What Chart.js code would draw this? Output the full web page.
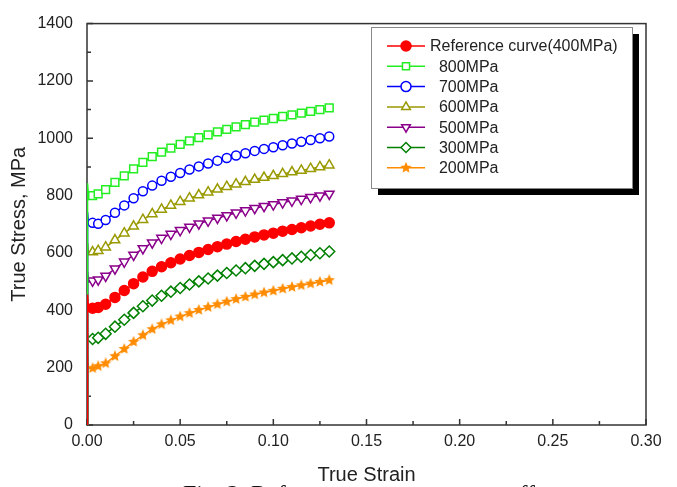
<!DOCTYPE html>
<html>
<head>
<meta charset="utf-8">
<title>True stress - true strain</title>
<script src="https://cdn.jsdelivr.net/npm/chart.js@4.4.1/dist/chart.umd.min.js"></script>
<style>
  html, body { margin: 0; padding: 0; background: #fff; }
  #chart { display: block; }
</style>
</head>
<body>
<canvas id="chart" width="677" height="487"></canvas>
<script>
// strain values; the first three points are the elastic spike (no markers)
const strain = [0, 0.0003, 0.0008, 0.003, 0.006, 0.010, 0.015, 0.020, 0.025, 0.030,
  0.035, 0.040, 0.045, 0.050, 0.055, 0.060, 0.065, 0.070, 0.075, 0.080,
  0.085, 0.090, 0.095, 0.100, 0.105, 0.110, 0.115, 0.120, 0.125, 0.130];

// true stress (MPa)
const stressRef = [0, 455, 408, 407, 410, 421, 445, 469, 493, 516, 536, 552, 566, 579, 591, 602, 612, 622, 631, 640, 648, 656, 663, 669, 676, 682, 688, 694, 700, 705];
const stress800 = [0, 843, 797, 800, 806, 821, 846, 869, 893, 916, 936, 952, 966, 979, 991, 1002, 1012, 1022, 1031, 1040, 1048, 1056, 1063, 1069, 1076, 1082, 1088, 1094, 1100, 1106];
const stress700 = [0, 742, 703, 705, 702, 715, 740, 766, 791, 815, 835, 852, 866, 879, 891, 902, 912, 922, 931, 940, 948, 956, 963, 969, 976, 982, 988, 994, 1000, 1006];
const stress600 = [0, 636, 600, 603, 608, 620, 645, 669, 693, 716, 736, 752, 766, 779, 791, 802, 812, 822, 831, 840, 848, 856, 863, 869, 876, 882, 888, 894, 900, 906];
const stress500 = [0, 533, 500, 503, 507, 520, 545, 569, 593, 616, 636, 652, 666, 679, 691, 702, 712, 722, 731, 740, 748, 756, 763, 769, 776, 782, 788, 794, 800, 806];
const stress300 = [0, 318, 298, 300, 304, 318, 343, 367, 391, 414, 434, 451, 465, 478, 490, 501, 511, 521, 530, 539, 547, 555, 562, 568, 575, 581, 587, 593, 599, 605];
const stress200 = [0, 238, 200, 198, 205, 215, 240, 265, 290, 313, 334, 351, 365, 378, 390, 401, 411, 421, 430, 439, 447, 455, 462, 468, 475, 481, 487, 493, 499, 505];

const seriesLabels = ['Reference curve(400MPa)', '  800MPa', '  700MPa', '  600MPa', '  500MPa', '  300MPa', '  200MPa'];

// tick labels
const xTickValues = [0, 0.05, 0.10, 0.15, 0.20, 0.25, 0.30];
const yTickValues = [0, 200, 400, 600, 800, 1000, 1200, 1400];

const SPIKE_POINTS = 3;

// filled 5-point star for the 200MPa series
function makeStar(size, color) {
  const c = document.createElement('canvas');
  c.width = size;
  c.height = size;
  const g = c.getContext('2d');
  const R = size / 2, r = R * 0.45;
  g.beginPath();
  for (let i = 0; i < 10; i++) {
    const a = -Math.PI / 2 + i * Math.PI / 5;
    const rad = i % 2 ? r : R;
    g.lineTo(R + rad * Math.cos(a), R + rad * Math.sin(a));
  }
  g.closePath();
  g.fillStyle = color;
  g.fill();
  return c;
}

function toPoints(ys) {
  return ys.map((y, i) => ({ x: strain[i], y: y }));
}

function series(label, ys, color, style, radius, fill, rotation) {
  return {
    label: label,
    data: toPoints(ys),
    borderColor: color,
    backgroundColor: fill,
    borderWidth: 1.5,
    pointStyle: style,
    pointRotation: rotation || 0,
    pointBorderColor: color,
    pointBackgroundColor: fill,
    pointBorderWidth: 1.5,
    pointRadius: ctx => ctx.dataIndex < SPIKE_POINTS ? 0 : radius,
    tension: 0
  };
}

const datasets = [
  series(seriesLabels[0], stressRef, '#ff0000', 'circle', 5, '#ff0000'),
  series(seriesLabels[1], stress800, '#22ee22', 'rect', 5.5, '#ffffff'),
  series(seriesLabels[2], stress700, '#0000ff', 'circle', 4.5, '#ffffff'),
  series(seriesLabels[3], stress600, '#999900', 'triangle', 5.5, '#ffffff'),
  series(seriesLabels[4], stress500, '#8b008b', 'triangle', 5.5, '#ffffff', 180),
  series(seriesLabels[5], stress300, '#008000', 'rectRot', 5.5, '#ffffff'),
  series(seriesLabels[6], stress200, '#ff8c00', makeStar(12, '#ff8c00'), 6, '#ff8c00')
];

// frame round the plot and inward major/minor ticks
const framePlugin = {
  id: 'frame',
  beforeDatasetsDraw(chart) {
    const { ctx, chartArea: a, scales } = chart;
    ctx.save();
    ctx.strokeStyle = '#333';
    ctx.lineWidth = 1.5;
    ctx.strokeRect(a.left, a.top, a.right - a.left, a.bottom - a.top);
    ctx.beginPath();
    const xt = scales.x.ticks.map(t => t.value);
    xt.forEach((v, i) => {
      const px = scales.x.getPixelForValue(v);
      ctx.moveTo(px, a.bottom);
      ctx.lineTo(px, a.bottom - 6);
      if (i < xt.length - 1) {
        const mx = scales.x.getPixelForValue((v + xt[i + 1]) / 2);
        ctx.moveTo(mx, a.bottom);
        ctx.lineTo(mx, a.bottom - 4);
      }
    });
    const yt = scales.y.ticks.map(t => t.value);
    yt.forEach((v, i) => {
      const py = scales.y.getPixelForValue(v);
      ctx.moveTo(a.left, py);
      ctx.lineTo(a.left + 6, py);
      if (i < yt.length - 1) {
        const my = scales.y.getPixelForValue((v + yt[i + 1]) / 2);
        ctx.moveTo(a.left, my);
        ctx.lineTo(a.left + 4, my);
      }
    });
    ctx.stroke();
    ctx.restore();
  }
};

// legend box with drop shadow, as in the original figure
const legendBox = { x: 371, y: 27, w: 261, h: 161, shadow: 7, rowTop: 46, rowGap: 20.3 };
const legendPlugin = {
  id: 'boxLegend',
  afterDraw(chart) {
    const ctx = chart.ctx;
    const b = legendBox;
    ctx.save();
    ctx.fillStyle = '#000';
    ctx.fillRect(b.x + b.shadow, b.y + b.shadow, b.w, b.h);
    ctx.fillStyle = '#fff';
    ctx.fillRect(b.x, b.y, b.w, b.h);
    ctx.strokeStyle = '#888';
    ctx.lineWidth = 1;
    ctx.strokeRect(b.x + 0.5, b.y + 0.5, b.w, b.h);
    ctx.font = '16px "Liberation Sans", Arial, sans-serif';
    ctx.textBaseline = 'middle';
    chart.data.datasets.forEach((ds, i) => {
      const y = b.rowTop + i * b.rowGap;
      ctx.strokeStyle = ds.borderColor;
      ctx.lineWidth = 1.5;
      ctx.beginPath();
      ctx.moveTo(387, y);
      ctx.lineTo(425, y);
      ctx.stroke();
      ctx.fillStyle = ds.pointBackgroundColor;
      Chart.helpers.drawPoint(ctx, {
        pointStyle: ds.pointStyle,
        rotation: ds.pointRotation,
        radius: 5,
        borderWidth: 1.5
      }, 406, y);
      ctx.fillStyle = '#222';
      ctx.fillText(ds.label, 430, y + 1);
    });
    ctx.restore();
  }
};

// figure caption peeking in at the bottom edge
const captionPlugin = {
  id: 'caption',
  beforeDraw(chart) {
    const ctx = chart.ctx;
    ctx.save();
    ctx.fillStyle = '#111';
    ctx.font = '24px "Liberation Serif", "Times New Roman", serif';
    ctx.textBaseline = 'alphabetic';
    ctx.textAlign = 'left';
    ctx.fillText('Fig. 2. Reference', 183, 501);
    ctx.textAlign = 'right';
    ctx.fillText('effect', 563, 501);
    ctx.fillStyle = '#fff';
    ctx.fillRect(305, 466, 162, 21);
    ctx.restore();
  }
};

Chart.defaults.font.family = '"Liberation Sans", Arial, sans-serif';
Chart.defaults.color = '#222';

new Chart(document.getElementById('chart'), {
  type: 'line',
  data: { datasets: datasets },
  options: {
    responsive: false,
    animation: false,
    events: [],
    layout: { padding: { top: 17, right: 31, left: 0, bottom: 0 } },
    plugins: {
      legend: { display: false },
      tooltip: { enabled: false }
    },
    scales: {
      x: {
        type: 'linear',
        min: 0,
        max: 0.3,
        afterBuildTicks: s => { s.ticks = xTickValues.map(v => ({ value: v })); },
        afterFit: s => { s.height = 62; },
        ticks: {
          callback: v => v.toFixed(2),
          font: { size: 16 },
          padding: 7,
          maxRotation: 0,
          autoSkip: false
        },
        grid: { display: false, drawTicks: false },
        border: { display: false },
        title: {
          display: true,
          text: 'True Strain',
          font: { size: 20 },
          padding: { top: 0, bottom: 0 }
        }
      },
      y: {
        type: 'linear',
        min: 0,
        max: 1400,
        afterBuildTicks: s => { s.ticks = yTickValues.map(v => ({ value: v })); },
        afterFit: s => { s.width = 87; },
        ticks: {
          callback: v => String(v),
          font: { size: 16 },
          padding: 14,
          autoSkip: false
        },
        grid: { display: false, drawTicks: false },
        border: { display: false },
        title: {
          display: true,
          text: 'True Stress, MPa',
          font: { size: 20 },
          padding: { top: 7, bottom: 0 }
        }
      }
    }
  },
  plugins: [captionPlugin, framePlugin, legendPlugin]
});
</script>
</body>
</html>
